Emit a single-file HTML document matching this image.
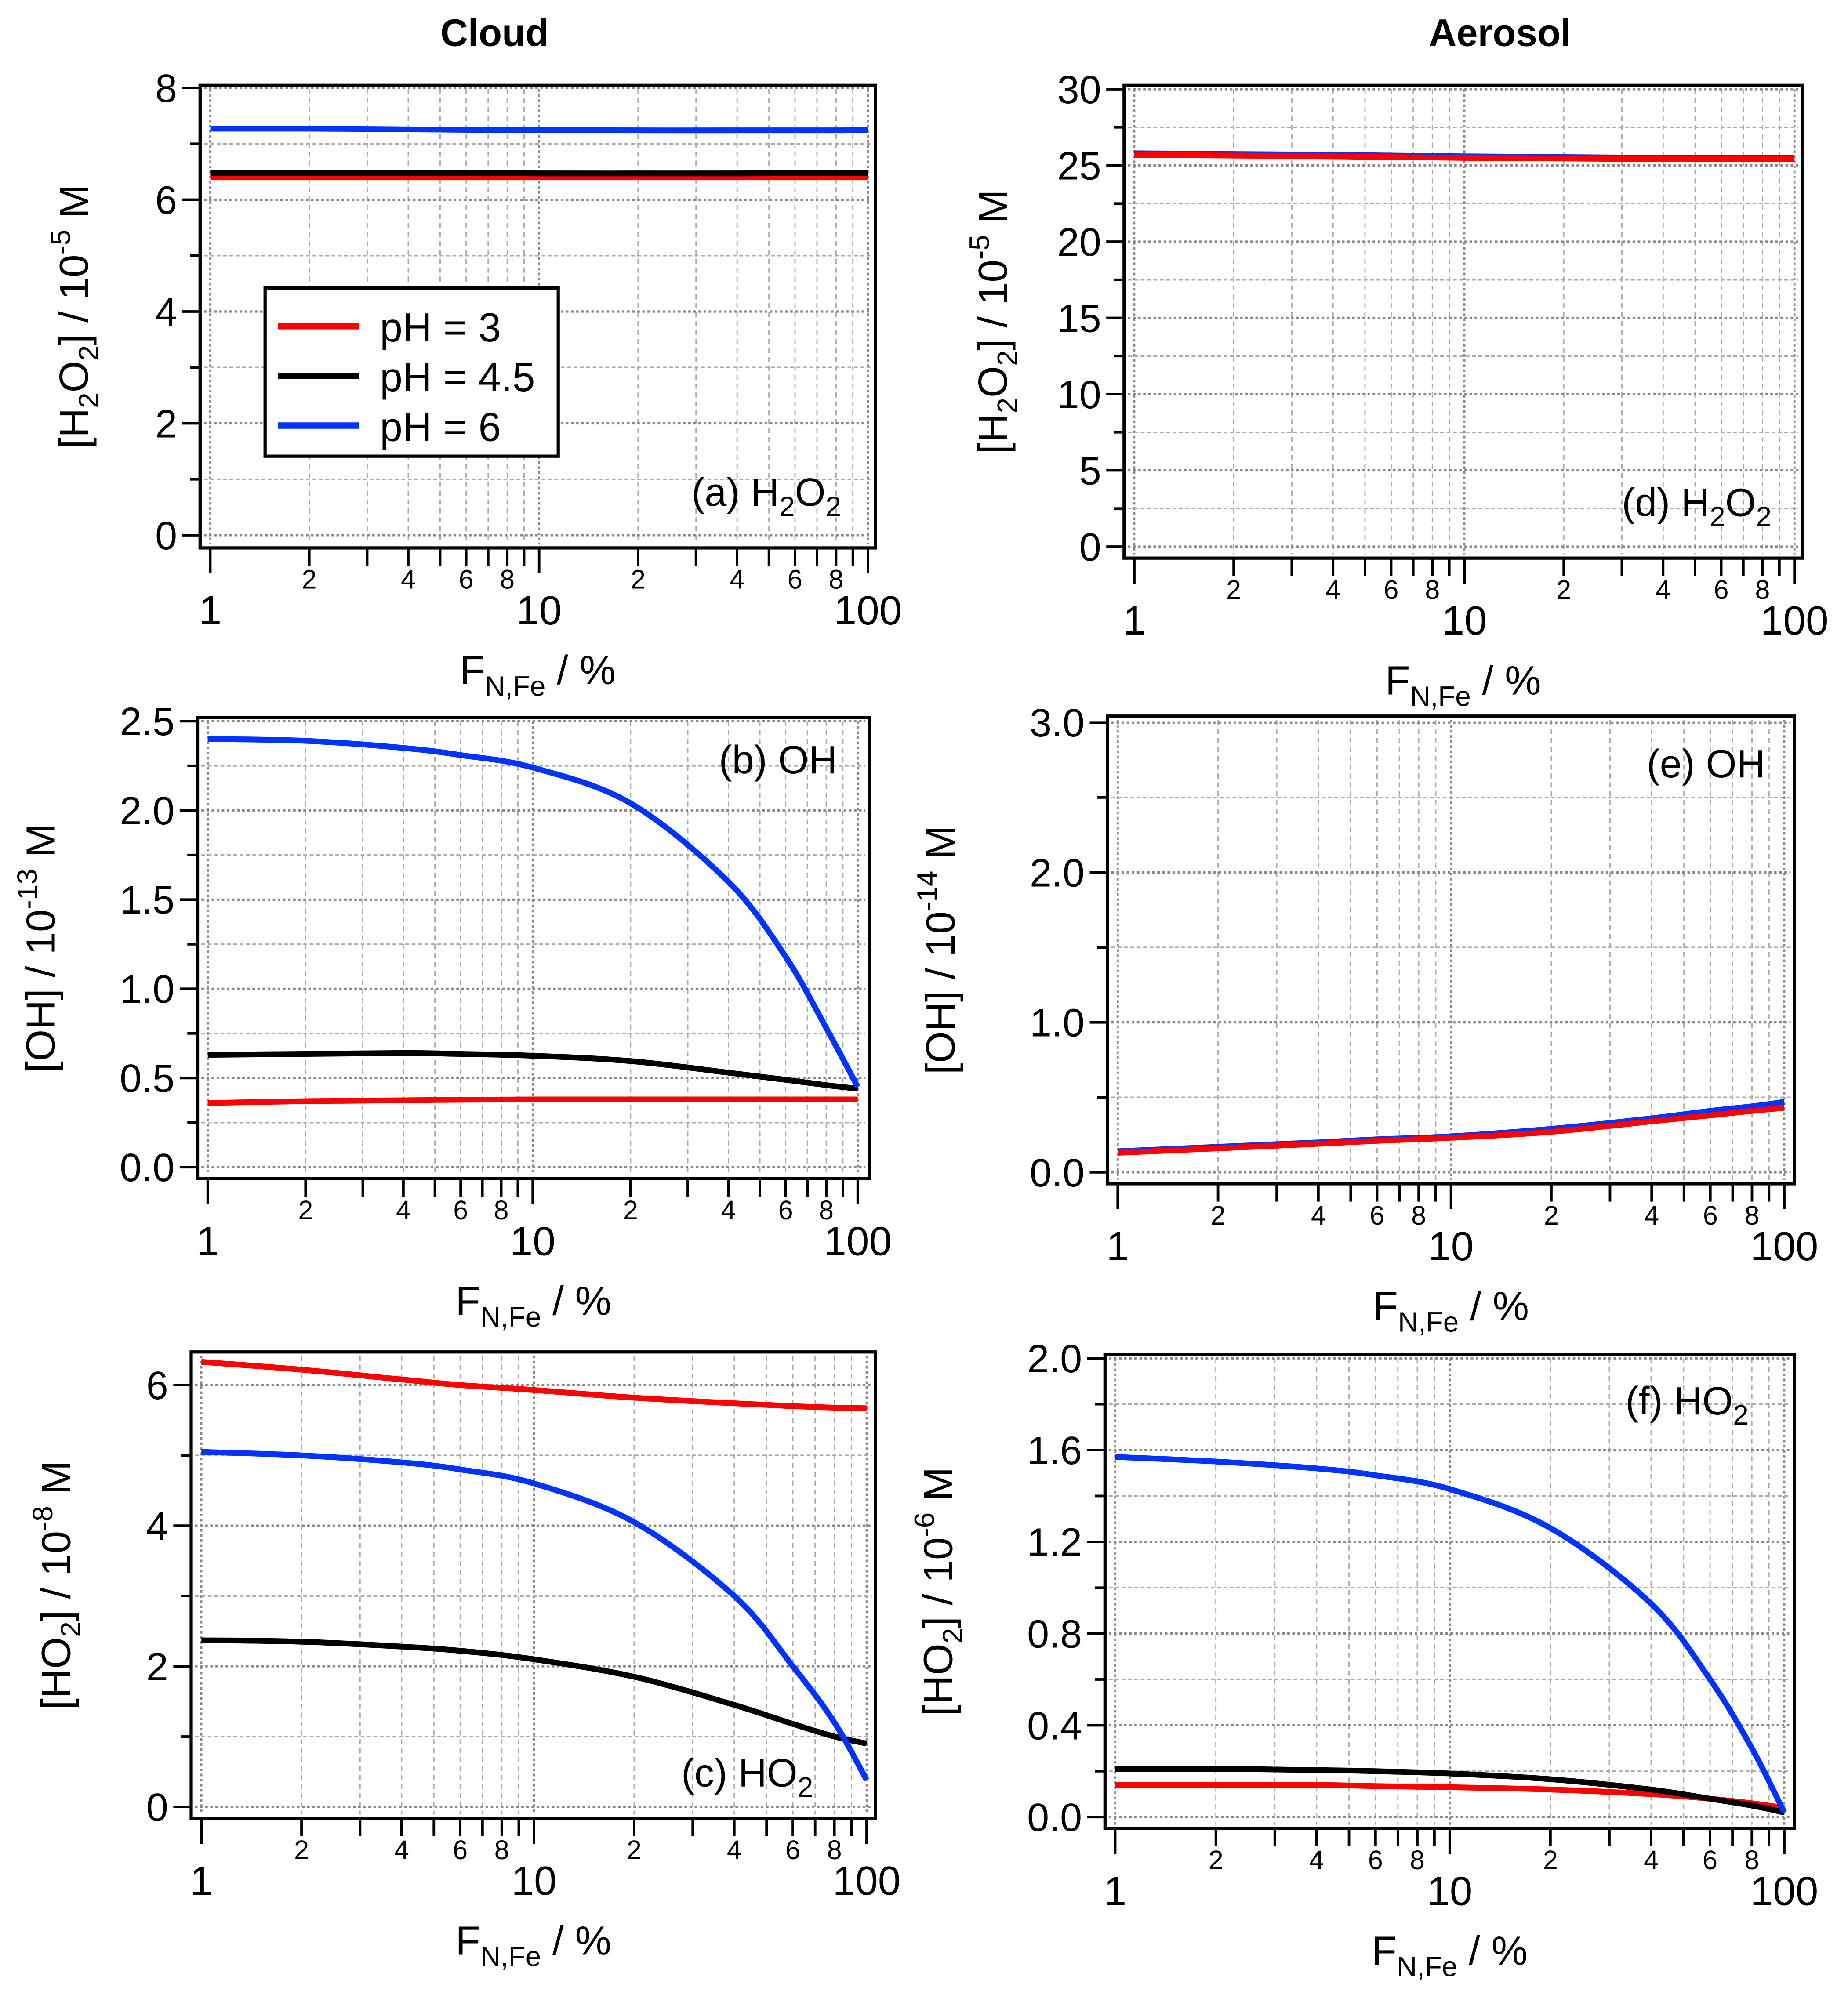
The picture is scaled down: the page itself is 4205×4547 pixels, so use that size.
<!DOCTYPE html>
<html><head><meta charset="utf-8"><style>
html,body{margin:0;padding:0;background:#fff}
svg{display:block}
text{font-family:"Liberation Sans",sans-serif;fill:#000}
</style></head><body>
<svg id="fig" width="4205" height="4547" viewBox="0 0 1450 1568" preserveAspectRatio="none" xmlns="http://www.w3.org/2000/svg">
<text x="388" y="36" font-size="30" font-weight="bold" text-anchor="middle">Cloud</text>
<text x="1177" y="36" font-size="30" font-weight="bold" text-anchor="middle">Aerosol</text>
</svg>
<script>
const xs = [1,2,4,6,10,20,40,60,80,100];
const aRed = [6.40,6.40,6.40,6.40,6.40,6.40,6.40,6.40,6.40,6.40];
const aBlack = [6.48,6.48,6.48,6.48,6.47,6.47,6.47,6.48,6.48,6.48];
const aBlue = [7.27,7.27,7.26,7.25,7.25,7.24,7.24,7.24,7.24,7.25];
const dRed = [25.7,25.65,25.6,25.55,25.5,25.45,25.4,25.4,25.4,25.4];
const dBlue = [25.8,25.75,25.7,25.65,25.6,25.55,25.5,25.5,25.5,25.5];
const bRed = [0.36,0.37,0.375,0.378,0.38,0.38,0.38,0.38,0.38,0.38];
const bBlack = [0.63,0.635,0.64,0.635,0.625,0.595,0.53,0.49,0.46,0.44];
const bBlue = [2.40,2.39,2.35,2.31,2.24,2.04,1.60,1.18,0.78,0.45];
const eRed = [0.13,0.16,0.19,0.21,0.23,0.27,0.34,0.38,0.41,0.43];
const eBlue = [0.14,0.17,0.20,0.22,0.24,0.29,0.36,0.41,0.44,0.47];
const cRed = [6.33,6.22,6.08,6.00,5.93,5.82,5.74,5.70,5.68,5.67];
const cBlack = [2.37,2.35,2.28,2.22,2.10,1.85,1.45,1.18,1.00,0.90];
const cBlue = [5.05,5.00,4.90,4.80,4.60,4.05,3.00,2.00,1.20,0.38];
const fRed = [0.14,0.14,0.14,0.135,0.13,0.12,0.10,0.08,0.06,0.04];
const fBlack = [0.21,0.21,0.205,0.20,0.19,0.165,0.12,0.08,0.05,0.02];
const fBlue = [1.57,1.55,1.52,1.49,1.43,1.26,0.93,0.60,0.30,0.02];

const NS="http://www.w3.org/2000/svg";
const svg=document.getElementById('fig');
function mk(tag,attrs,parent){const e=document.createElementNS(NS,tag);for(const k in attrs)e.setAttribute(k,attrs[k]);(parent||svg).appendChild(e);return e;}
function smooth(pts){
  let d='M'+pts[0][0].toFixed(1)+','+pts[0][1].toFixed(1);
  for(let i=0;i<pts.length-1;i++){
    const p0=pts[Math.max(0,i-1)],p1=pts[i],p2=pts[i+1],p3=pts[Math.min(pts.length-1,i+2)];
    const c1=[p1[0]+(p2[0]-p0[0])/6,p1[1]+(p2[1]-p0[1])/6];
    const c2=[p2[0]-(p3[0]-p1[0])/6,p2[1]-(p3[1]-p1[1])/6];
    d+=` C${c1[0].toFixed(1)},${c1[1].toFixed(1)} ${c2[0].toFixed(1)},${c2[1].toFixed(1)} ${p2[0].toFixed(1)},${p2[1].toFixed(1)}`;
  }
  return d;
}

function panel(p){
  const g=mk('g',{});
  
  
  const [L,T,R,B]=p.frame;
  const X=v=>p.x1+(p.x100-p.x1)*Math.log10(v)/2;
  const Y=v=>p.y0+(p.yTop-p.y0)*(v-p.v0)/(p.vTop-p.v0);
  for(let d=1;d<=100;d*=10){for(let m=1;m<10;m++){const v=d*m;if(v>100)break;
    const x=X(v);
    const gl=mk('line',{x1:x,x2:x,y1:T+3,y2:B-3,stroke:m===1?'#888':'#aaa','stroke-width':m===1?1.6:1,'stroke-dasharray':m===1?'2,2':'4,3'},g);
    
    
    const tk=mk('line',{x1:x,x2:x,y1:B,y2:B+(m===1?20:14),stroke:'#000','stroke-width':2},g);
    
    
    if(m===1){const t=mk('text',{x:x,y:B+60,'font-size':32,'text-anchor':'middle'},g);t.textContent=String(v);
      }
    else if(m%2===0){const t=mk('text',{x:x,y:B+32,'font-size':21,'text-anchor':'middle'},g);t.textContent=String(m);
      }
  }}
  p.minors.forEach(v=>{const y=Y(v);
    const gl=mk('line',{x1:L+3,x2:R-3,y1:y,y2:y,stroke:'#aaa','stroke-width':1.2,'stroke-dasharray':'3,2'},g);
    
    const tk=mk('line',{x1:L-8,x2:L,y1:y,y2:y,stroke:'#000','stroke-width':2},g);
    });
  p.majors.forEach((v,i)=>{const y=Y(v);
    const gl=mk('line',{x1:L+3,x2:R-3,y1:y,y2:y,stroke:'#888','stroke-width':1.8,'stroke-dasharray':'2,2'},g);
    
    const tk=mk('line',{x1:L-14,x2:L,y1:y,y2:y,stroke:'#000','stroke-width':2},g);
    
    const t=mk('text',{x:L-18,y:y+11,'font-size':31,'text-anchor':'end'},g);t.textContent=p.labels[i];
    });
  p.series.forEach(s=>{
    const pts=xs.map((x,i)=>[X(x),Y(s.v[i])]);
    const path=mk('path',{d:smooth(pts),fill:'none',stroke:s.c,'stroke-width':4.5,'stroke-linejoin':'round'},g);
    
    
  });
  const fr=mk('rect',{x:L,y:T,width:R-L,height:B-T,fill:'none',stroke:'#000','stroke-width':2.5},g);
  
  const xt=mk('text',{x:(L+R)/2,y:B+107,'font-size':32,'text-anchor':'middle'},g);
  xt.innerHTML='F<tspan font-size="22" dy="9">N,Fe</tspan><tspan dy="-9"> / %</tspan>';
  
  const yt=mk('text',{x:0,y:0,'font-size':32,'text-anchor':'middle',transform:`translate(${L-p.ytOff},${(T+B)/2}) rotate(-90)`},g);
  yt.innerHTML=p.ytitle;
  
  const an=mk('text',{x:p.ann[0],y:p.ann[1],'font-size':31,'text-anchor':'end'},g);
  an.innerHTML=p.annText;
  
}
const sub=s=>`<tspan font-size="22" dy="8">${s}</tspan><tspan dy="-8">`;
panel({name:'panel-a-h2o2-cloud',frame:[157,67,687,430],x1:165,x100:681,y0:420,yTop:69,v0:0,vTop:8,
  majors:[0,2,4,6,8],labels:['0','2','4','6','8'],minors:[1,3,5,7],ytOff:88,
  ytitle:'[H'+sub('2')+'O'+sub('2')+'] / 10<tspan font-size="22" dy="-14">-5</tspan><tspan dy="14"> M</tspan></tspan></tspan>',
  ann:[660,397],annText:'(a) H'+sub('2')+'O'+sub('2')+'</tspan></tspan>',
  series:[{n:'series-ph3',c:'#ff0000',v:aRed},{n:'series-ph4-5',c:'#000',v:aBlack},{n:'series-ph6',c:'#0033ff',v:aBlue}]});
panel({name:'panel-d-h2o2-aerosol',frame:[882,67,1414,438],x1:890,x100:1408,y0:429,yTop:70,v0:0,vTop:30,
  majors:[0,5,10,15,20,25,30],labels:['0','5','10','15','20','25','30'],minors:[2.5,7.5,12.5,17.5,22.5,27.5],ytOff:92,
  ytitle:'[H'+sub('2')+'O'+sub('2')+'] / 10<tspan font-size="22" dy="-14">-5</tspan><tspan dy="14"> M</tspan></tspan></tspan>',
  ann:[1390,405],annText:'(d) H'+sub('2')+'O'+sub('2')+'</tspan></tspan>',
  series:[{n:'series-ph6',c:'#0033ff',v:dBlue},{n:'series-ph3',c:'#ff0000',v:dRed}]});
panel({name:'panel-b-oh-cloud',frame:[155,563,682,925],x1:163,x100:673,y0:916,yTop:566,v0:0,vTop:2.5,
  majors:[0,0.5,1,1.5,2,2.5],labels:['0.0','0.5','1.0','1.5','2.0','2.5'],minors:[0.25,0.75,1.25,1.75,2.25],ytOff:112,
  ytitle:'[OH] / 10<tspan font-size="22" dy="-14">-13</tspan><tspan dy="14"> M</tspan>',
  ann:[657,607],annText:'(b) OH',
  series:[{n:'series-ph3',c:'#ff0000',v:bRed},{n:'series-ph4-5',c:'#000',v:bBlack},{n:'series-ph6',c:'#0033ff',v:bBlue}]});
panel({name:'panel-e-oh-aerosol',frame:[869,562,1408,929],x1:877,x100:1400,y0:920,yTop:567,v0:0,vTop:3,
  majors:[0,1,2,3],labels:['0.0','1.0','2.0','3.0'],minors:[0.5,1.5,2.5],ytOff:120,
  ytitle:'[OH] / 10<tspan font-size="22" dy="-14">-14</tspan><tspan dy="14"> M</tspan>',
  ann:[1385,610],annText:'(e) OH',
  series:[{n:'series-ph6',c:'#0033ff',v:eBlue},{n:'series-ph3',c:'#ff0000',v:eRed}]});
panel({name:'panel-c-ho2-cloud',frame:[150,1061,687,1427],x1:158,x100:680,y0:1418,yTop:1087,v0:0,vTop:6,
  majors:[0,2,4,6],labels:['0','2','4','6'],minors:[1,3,5],ytOff:95,
  ytitle:'[HO'+sub('2')+'] / 10<tspan font-size="22" dy="-14">-8</tspan><tspan dy="14"> M</tspan></tspan>',
  ann:[638,1402],annText:'(c) HO'+sub('2')+'</tspan>',
  series:[{n:'series-ph3',c:'#ff0000',v:cRed},{n:'series-ph4-5',c:'#000',v:cBlack},{n:'series-ph6',c:'#0033ff',v:cBlue}]});
panel({name:'panel-f-ho2-aerosol',frame:[867,1063,1408,1435],x1:875,x100:1400,y0:1426,yTop:1066,v0:0,vTop:2,
  majors:[0,0.4,0.8,1.2,1.6,2.0],labels:['0.0','0.4','0.8','1.2','1.6','2.0'],minors:[0.2,0.6,1.0,1.4,1.8],ytOff:120,
  ytitle:'[HO'+sub('2')+'] / 10<tspan font-size="22" dy="-14">-6</tspan><tspan dy="14"> M</tspan></tspan>',
  ann:[1372,1110],annText:'(f) HO'+sub('2')+'</tspan>',
  series:[{n:'series-ph3',c:'#ff0000',v:fRed},{n:'series-ph4-5',c:'#000',v:fBlack},{n:'series-ph6',c:'#0033ff',v:fBlue}]});

const lg=mk('g',{});


mk('rect',{x:208,y:226,width:230,height:132,fill:'#fff',stroke:'#000','stroke-width':2.5},lg);
const legNames=['pH = 3','pH = 4.5','pH = 6'];
const legColors=['#ff0000','#000','#0033ff'];
legNames.forEach((n,i)=>{
  const y=256+i*39;
  const ln=mk('line',{x1:218,x2:282,y1:y,y2:y,stroke:legColors[i],'stroke-width':5},lg);
  
  
  const t=mk('text',{x:298,y:y+12,'font-size':32},lg);
  t.textContent=n;
  
  
});
</script>
</body></html>
